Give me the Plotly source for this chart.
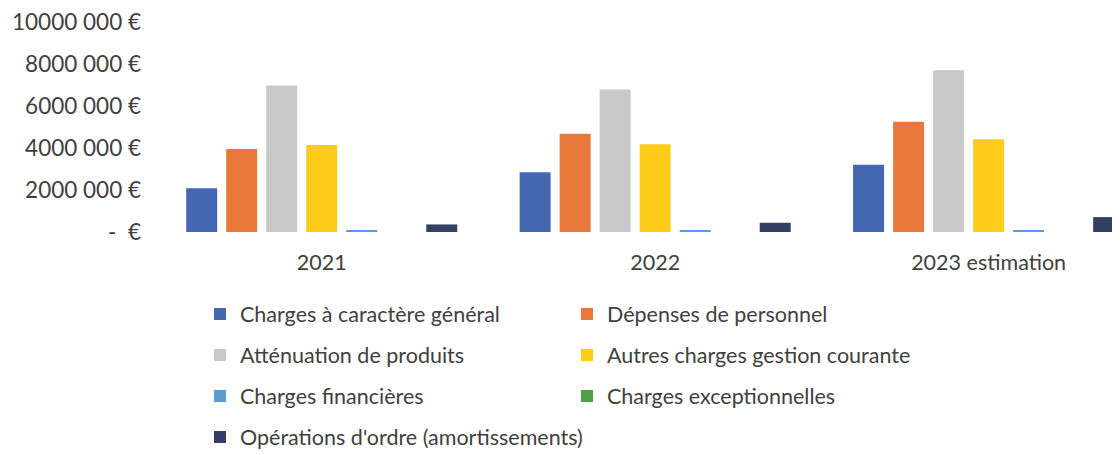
import plotly.graph_objects as go

categories = ["2021", "2022", "2023 estimation"]

series_names = [
    "Charges à caractère général",
    "Dépenses de personnel",
    "Atténuation de produits",
    "Autres charges gestion courante",
    "Charges financières",
    "Charges exceptionnelles",
    "Opérations d'ordre (amortissements)",
]

charges_generales = [2080000, 2850000, 3200000]
depenses_personnel = [3950000, 4680000, 5250000]
attenuation_produits = [6980000, 6780000, 7700000]
autres_charges = [4140000, 4180000, 4420000]
charges_financieres = [60000, 55000, 50000]
charges_exceptionnelles = [0, 0, 0]
operations_ordre = [360000, 440000, 710000]

tick_values = [0, 2000000, 4000000, 6000000, 8000000, 10000000]
tick_labels = ["-\u00a0\u00a0€", "2000 000 €", "4000 000 €", "6000 000 €", "8000 000 €", "10000 000 €"]

colors = ["#4468B0", "#E8793A", "#C9C9C9", "#FFCC1A", "#5B9BD5", "#4EA046", "#353F63"]
legend_ids = ["legend", "legend", "legend2", "legend2", "legend3", "legend3", "legend4"]

values = [charges_generales, depenses_personnel, attenuation_produits, autres_charges,
          charges_financieres, charges_exceptionnelles, operations_ordre]

FONT = "Lato, 'Open Sans', sans-serif"
TXT = "#404040"

fig = go.Figure()
for name, vals, col, lg in zip(series_names, values, colors, legend_ids):
    fig.add_trace(go.Bar(x=categories, y=vals, name=name, marker_color=col,
                         marker_line_width=0, legend=lg))

W, H = 1120, 455
row_y = [306, 347, 388, 429]
legend_common = dict(orientation="h", xref="container", yref="container",
                     xanchor="left", yanchor="middle", x=(208 - 16) / W,
                     font=dict(family=FONT, size=21.5, color=TXT),
                     bgcolor="rgba(0,0,0,0)", traceorder="normal")
two_col = dict(entrywidth=367 - 45, entrywidthmode="pixels")

fig.update_layout(
    width=W, height=H,
    margin=dict(l=147, r=6, t=14, b=231, autoexpand=False),
    paper_bgcolor="white", plot_bgcolor="white",
    barmode="group", bargap=0.16, bargroupgap=0.225,
    font=dict(family=FONT, size=21.5, color=TXT),
    xaxis=dict(range=[-0.5, 2.4], showgrid=False, showline=False, zeroline=False,
               automargin=False, ticklabeloverflow="allow",
               tickfont=dict(family=FONT, size=21.5, color=TXT), ticklabelstandoff=15),
    yaxis=dict(range=[0, 10000000], tickvals=tick_values, ticktext=tick_labels,
               showgrid=False, zeroline=False, showline=False, automargin=False,
               ticklabeloverflow="allow",
               tickfont=dict(family=FONT, size=22.5, color=TXT), ticklabelstandoff=13),
    legend=dict(legend_common, **two_col, y=1 - row_y[0] / H),
    legend2=dict(legend_common, **two_col, y=1 - row_y[1] / H),
    legend3=dict(legend_common, **two_col, y=1 - row_y[2] / H),
    legend4=dict(legend_common, y=1 - row_y[3] / H),
)

fig.write_html("out.html")
